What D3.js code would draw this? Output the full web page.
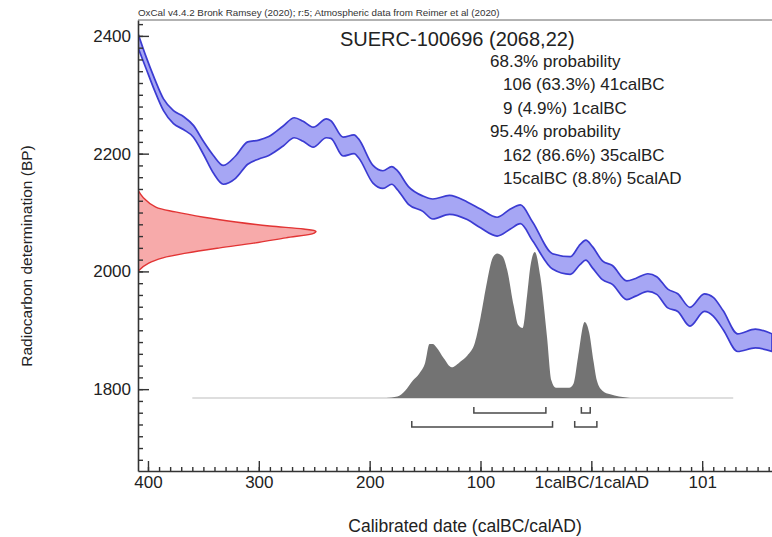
<!DOCTYPE html>
<html>
<head>
<meta charset="utf-8">
<script src="https://cdn.jsdelivr.net/npm/d3@7"></script>
<style>
  body { margin: 0; background: #fff; }
  svg { display: block; font-family: Arial, "Liberation Sans", sans-serif; }
  .tick text { font-size: 17px; fill: #222; }
  .tick line { stroke: #333; stroke-width: 1.4; }
  .domain { stroke: #333; stroke-width: 1.6; }
</style>
</head>
<body>
<svg id="chart" width="772" height="537"></svg>
<script>
// calibration curve (years: negative = calBC), mean BP and 1 sigma
const calYear = [-409, -402, -394, -386, -377, -368, -359, -350, -341, -332, -321, -310, -300, -291, -278, -268, -260, -251, -239, -235, -224, -214, -210, -197, -188, -180, -175, -165, -152, -143, -128, -112, -100, -85, -73, -64, -53, -35, -19, -10, -5, 1, 10, 19, 32, 40, 51, 59, 69, 78, 89, 102, 110, 119, 132, 148, 163];
const calBP = [2392, 2356, 2317, 2283, 2262, 2252, 2238, 2210, 2182, 2164, 2177, 2201, 2207, 2213, 2230, 2244, 2238, 2228, 2243, 2241, 2212, 2216, 2209, 2165, 2156, 2163, 2155, 2129, 2115, 2106, 2113, 2103, 2090, 2076, 2089, 2097, 2068, 2017, 2010, 2029, 2036, 2024, 2002, 1994, 1968, 1973, 1981, 1976, 1954, 1947, 1923, 1947, 1940, 1917, 1879, 1886, 1879];
const calSigma = [12, 10, 10, 10, 11, 11, 10, 11, 15, 16, 19, 19, 16, 16, 17, 17, 17, 17, 16, 15, 16, 16, 16, 15, 15, 15, 16, 15, 13, 17, 16, 15, 16, 16, 17, 16, 16, 13, 15, 17, 17, 18, 16, 16, 16, 15, 15, 15, 16, 15, 16, 15, 16, 16, 15, 16, 15];

// radiocarbon date SUERC-100696 (2068,22), relative probability
const dateBP = [2138, 2125, 2109, 2101, 2092, 2084, 2077, 2072, 2068, 2065, 2057, 2048, 2040, 2031, 2023, 2014, 2002, 1999];
const dateProb = [0, 0.03, 0.10, 0.21, 0.37, 0.55, 0.74, 0.93, 1.0, 0.99, 0.83, 0.65, 0.46, 0.27, 0.14, 0.06, 0.006, 0];

// calibrated distribution, relative probability
const postYear = [-185, -175, -168, -161, -155, -150, -146, -143, -140, -133, -126, -118, -112, -105, -100, -94, -89, -85, -80, -76, -70, -66, -62, -58, -55, -51, -46, -40, -36, -32, -25, -20, -16, -12, -6, -2, 2, 5, 10, 17, 25, 35];
const postProb = [0, 0.01, 0.05, 0.12, 0.17, 0.24, 0.37, 0.37, 0.35, 0.27, 0.21, 0.25, 0.29, 0.38, 0.55, 0.80, 0.96, 0.99, 0.97, 0.88, 0.63, 0.50, 0.48, 0.70, 0.90, 1.0, 0.83, 0.42, 0.12, 0.07, 0.07, 0.07, 0.10, 0.28, 0.52, 0.45, 0.25, 0.12, 0.05, 0.025, 0.01, 0];
const postRange = [-360, 128];

// highest probability ranges
const range68 = [[-106, -41], [-9, -1]];
const range95 = [[-162, -35], [-15, 5]];

const xTickValues = [-400, -300, -200, -100, 0, 100];
const xTickLabels = ["400", "300", "200", "100", "1calBC/1calAD", "101"];
const yTickValues = [1800, 2000, 2200, 2400];

const headerText = "OxCal v4.4.2 Bronk Ramsey (2020); r:5; Atmospheric data from Reimer et al (2020)";
const titleText = "SUERC-100696 (2068,22)";
const legendLines = [
  { text: "68.3% probability", indent: 0 },
  { text: "106 (63.3%) 41calBC", indent: 1 },
  { text: "9 (4.9%) 1calBC", indent: 1 },
  { text: "95.4% probability", indent: 0 },
  { text: "162 (86.6%) 35calBC", indent: 1 },
  { text: "15calBC (8.8%) 5calAD", indent: 1 }
];

const svg = d3.select("#chart");
const width = +svg.attr("width");
const height = +svg.attr("height");
const margin = { top: 20, right: 0, bottom: 66, left: 138 };

const xScale = d3.scaleLinear().domain([-409, 163]).range([margin.left, width - margin.right]);
const yScale = d3.scaleLinear().domain([1661, 2427]).range([height - margin.bottom, margin.top]);
// horizontal scale for the radiocarbon date, vertical one for the calibrated result
const probX = d3.scaleLinear().domain([0, 1]).range([margin.left, 316]);
const probY = d3.scaleLinear().domain([0, 1]).range([398, 252]);

svg.append("defs").append("clipPath").attr("id", "plot-clip")
  .append("rect")
  .attr("x", margin.left).attr("y", margin.top)
  .attr("width", width - margin.left - margin.right)
  .attr("height", height - margin.top - margin.bottom);

const plot = svg.append("g").attr("clip-path", "url(#plot-clip)");

//calibration curve band
const curveData = calYear.map((d, i) => ({ year: d, bp: calBP[i], sd: calSigma[i] }));
const band = d3.area()
  .x((d) => xScale(d.year))
  .y0((d) => yScale(d.bp - d.sd))
  .y1((d) => yScale(d.bp + d.sd))
  .curve(d3.curveMonotoneX);

plot.append("path")
  .attr("d", band(curveData))
  .attr("fill", "#a6a6f4")
  .attr("stroke", "#3b3bd2")
  .attr("stroke-width", 1.7)
  .attr("stroke-linejoin", "round");

//radiocarbon date on the y axis
const dateData = dateBP.map((d, i) => ({ bp: d, p: dateProb[i] }));
const dateArea = d3.area()
  .y((d) => yScale(d.bp))
  .x0(probX(0))
  .x1((d) => probX(d.p))
  .curve(d3.curveCatmullRom.alpha(0.5));

plot.append("path")
  .attr("d", dateArea(dateData))
  .attr("fill", "#f7aaaa")
  .attr("stroke", "#e23434")
  .attr("stroke-width", 1.4);

//calibrated distribution
plot.append("line")
  .attr("x1", xScale(postRange[0]))
  .attr("x2", xScale(postRange[1]))
  .attr("y1", probY(0))
  .attr("y2", probY(0))
  .attr("stroke", "#bdbdbd")
  .attr("stroke-width", 1.2);

const postData = postYear.map((d, i) => ({ year: d, p: postProb[i] }));
const postArea = d3.area()
  .x((d) => xScale(d.year))
  .y0(probY(0))
  .y1((d) => probY(d.p))
  .curve(d3.curveMonotoneX);

plot.append("path")
  .attr("d", postArea(postData))
  .attr("fill", "#737373");

//range brackets
function drawBrackets(ranges, yBottom) {
  plot.selectAll(null)
    .data(ranges)
    .enter()
    .append("path")
    .attr("d", (d) => {
      const x0 = xScale(d[0]);
      const x1 = xScale(d[1]);
      return `M${x0},${yBottom - 6}V${yBottom}H${x1}V${yBottom - 6}`;
    })
    .attr("fill", "none")
    .attr("stroke", "#4a4a4a")
    .attr("stroke-width", 1.5);
}
drawBrackets(range68, 413);
drawBrackets(range95, 427);

//axes
const xMinor = d3.axisBottom(xScale)
  .tickValues(d3.range(-400, 161, 10))
  .tickSize(-4)
  .tickSizeOuter(0)
  .tickFormat("");
const xMajor = d3.axisBottom(xScale)
  .tickValues(xTickValues)
  .tickSize(-10)
  .tickSizeOuter(0)
  .tickPadding(5)
  .tickFormat((d, i) => xTickLabels[i]);

const xAxisG = svg.append("g").attr("transform", `translate(0,${height - margin.bottom})`);
xAxisG.append("g").call(xMinor);
xAxisG.append("g").call(xMajor).select(".domain").remove();

const yMinor = d3.axisLeft(yScale)
  .tickValues(d3.range(1680, 2421, 20))
  .tickSize(-5)
  .tickSizeOuter(0)
  .tickFormat("");
const yMajor = d3.axisLeft(yScale)
  .tickValues(yTickValues)
  .tickSize(-11)
  .tickSizeOuter(0)
  .tickPadding(7)
  .tickFormat(d3.format("d"));

const yAxisG = svg.append("g").attr("transform", `translate(${margin.left},0)`);
yAxisG.append("g").call(yMinor);
yAxisG.append("g").call(yMajor).select(".domain").remove();

//top frame line
svg.append("line")
  .attr("x1", margin.left).attr("x2", width)
  .attr("y1", margin.top).attr("y2", margin.top)
  .attr("stroke", "#666")
  .attr("stroke-width", 1);

//texts
svg.append("text")
  .attr("x", margin.left)
  .attr("y", 16)
  .attr("font-size", 9.8)
  .attr("fill", "#333")
  .text(headerText);

svg.append("text")
  .attr("x", 340)
  .attr("y", 46)
  .attr("font-size", 20)
  .attr("fill", "#222")
  .text(titleText);

svg.append("g")
  .selectAll("text")
  .data(legendLines)
  .enter()
  .append("text")
  .attr("x", (d) => 490 + d.indent * 13)
  .attr("y", (d, i) => 66.5 + i * 23.5)
  .attr("font-size", 17)
  .attr("fill", "#222")
  .text((d) => d.text);

svg.append("text")
  .attr("x", 465)
  .attr("y", 532)
  .attr("text-anchor", "middle")
  .attr("font-size", 17.5)
  .attr("fill", "#222")
  .text("Calibrated date (calBC/calAD)");

svg.append("text")
  .attr("transform", "translate(32,256) rotate(-90)")
  .attr("text-anchor", "middle")
  .attr("font-size", 15.5)
  .attr("fill", "#222")
  .text("Radiocarbon determination (BP)");
</script>
</body>
</html>
